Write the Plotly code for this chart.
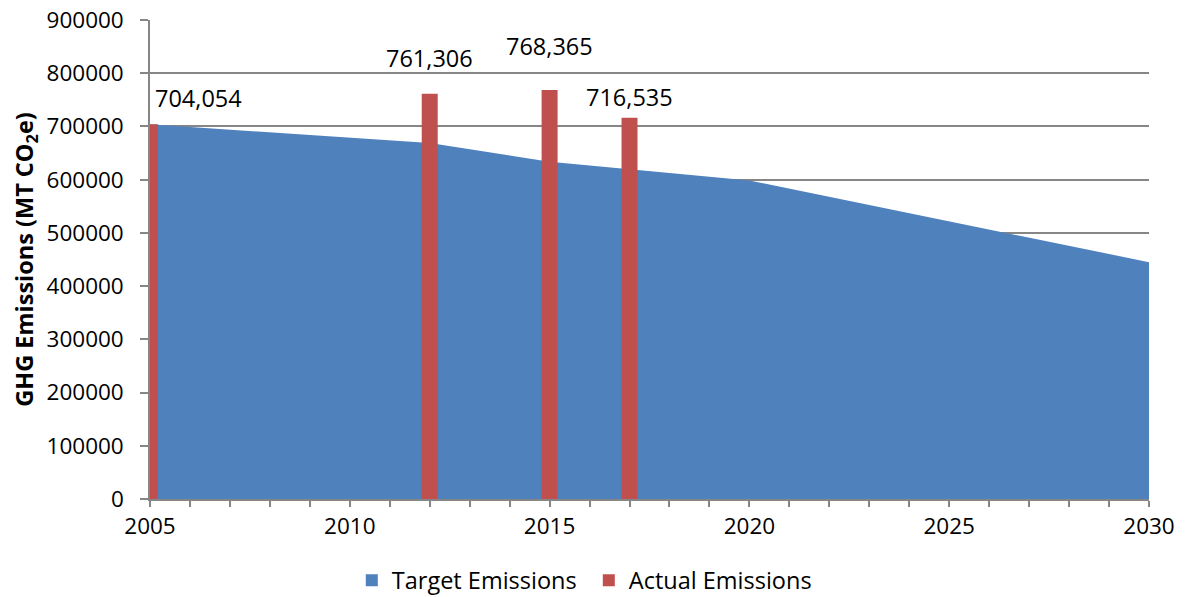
import plotly.graph_objects as go

# Data
target_years = [2005, 2012, 2015, 2020, 2030]
target_values = [704054, 668851, 633649, 598446, 445000]
actual_years = [2005, 2012, 2015, 2017]
actual_values = [704054, 761306, 768365, 716535]
y_tick_values = [0, 100000, 200000, 300000, 400000, 500000, 600000, 700000, 800000, 900000]

BLUE = "#4F81BD"
RED = "#C0504D"
GRID = "#868686"
FONT = "Open Sans"
FS = 23.5

fig = go.Figure()
fig.add_trace(go.Scatter(
    x=target_years, y=target_values, name="Target Emissions",
    mode="lines", fill="tozeroy", fillcolor=BLUE,
    line=dict(width=0, color=BLUE), xaxis="x", yaxis="y", showlegend=False,
))
# legend-only square entry for the target area
fig.add_trace(go.Bar(
    x=[None], y=[None], name="Target Emissions",
    marker=dict(color=BLUE, line=dict(width=0)), xaxis="x", yaxis="y",
))
fig.add_trace(go.Bar(
    x=actual_years, y=actual_values, name="Actual Emissions",
    width=0.4, marker=dict(color=RED, line=dict(width=0)),
    xaxis="x2", yaxis="y2",
))

# label offsets (pixels) relative to bar tops
offsets = [(48, 26), (0, 36), (0, 44), (0, 21)]
for (yr, v), (dx, dy) in zip(zip(actual_years, actual_values), offsets):
    fig.add_annotation(x=yr, y=v, xref="x", yref="y", text=f"{v:,}",
                       showarrow=False, xshift=dx, yshift=dy,
                       font=dict(family=FONT, size=FS, color="black"))

fig.update_layout(
    width=1185, height=597,
    margin=dict(l=150, r=36, t=20, b=98, autoexpand=False),
    paper_bgcolor="white", plot_bgcolor="white",
    font=dict(family=FONT, size=FS, color="black"),
    showlegend=True,
    legend=dict(orientation="h", x=0.202, y=-0.17, xanchor="left", yanchor="middle",
                font=dict(family=FONT, size=FS, color="black"),
                tracegroupgap=0, traceorder="normal",
                entrywidth=192, entrywidthmode="pixels"),
    xaxis=dict(range=[2005, 2030], dtick=5, tick0=2005, showgrid=False,
               showline=True, linecolor=GRID, linewidth=1.5,
               ticks="outside", ticklen=6, tickcolor=GRID, tickwidth=1.5,
               minor=dict(dtick=1, ticks="outside", ticklen=6, tickcolor=GRID, tickwidth=1.5),
               tickfont=dict(family=FONT, size=22.5), zeroline=False),
    yaxis=dict(range=[0, 900000], tickvals=y_tick_values, tickformat="d",
               showgrid=True, gridcolor=GRID, gridwidth=1.5,
               showline=True, linecolor=GRID, linewidth=1.5,
               ticks="outside", ticklen=8, tickcolor=GRID, tickwidth=1.5,
               tickfont=dict(family=FONT, size=22.5), zeroline=False,
               ticklabelstandoff=12,
               title=dict(text="<b>GHG Emissions (MT CO<sub>2</sub>e)</b>",
                          font=dict(family=FONT, size=23.5), standoff=6)),
    xaxis2=dict(overlaying="x", matches="x", visible=False, range=[2005, 2030]),
    yaxis2=dict(overlaying="y", matches="y", visible=False, range=[0, 900000]),
)

fig.write_html("out.html", config={"displayModeBar": False},
               post_script="document.body.style.margin='0';")
